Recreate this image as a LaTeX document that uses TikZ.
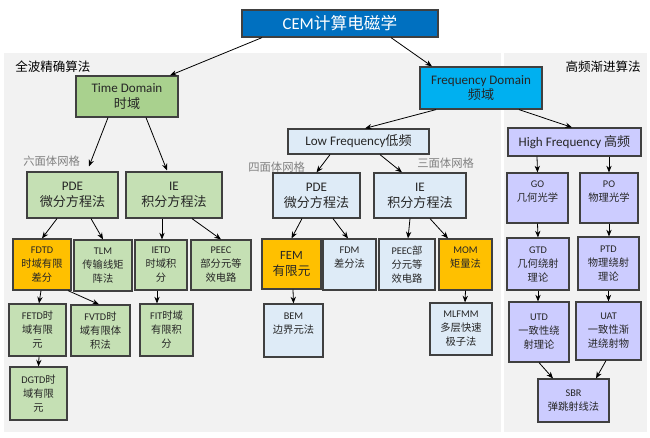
\documentclass[tikz,border=0pt]{standalone}
\usepackage{fontspec}
\setmainfont{Carlito}
\newfontfamily\cjk{Noto Sans CJK SC}
\newcommand\zh[1]{{\cjk #1}}
\usetikzlibrary{calc,arrows.meta}
\definecolor{cemblue}{HTML}{0070C0}
\definecolor{fdblue}{HTML}{00B0F0}
\definecolor{tdgreen}{HTML}{A9D18E}
\definecolor{ltgreen}{HTML}{C5E0B4}
\definecolor{ltblue}{HTML}{DEEBF7}
\definecolor{lav}{HTML}{CCCCFF}
\definecolor{orng}{HTML}{FFC000}
\definecolor{panelgray}{HTML}{F2F2F2}
\definecolor{bordergray}{HTML}{404040}
\definecolor{txt}{HTML}{262626}
\newcommand\bx[7]{\node[box,#6,minimum width={(#4-#2)*0.75pt},minimum height={(#5-#3)*0.75pt}] (#1) at ({(#2+#4)/2},{(#3+#5)/2}) {#7};}
\begin{document}
\begin{tikzpicture}[x=0.75pt,y=-0.75pt,
  box/.style={draw=bordergray,line width=0.9pt,inner sep=0pt,align=center,text=txt},
  big/.style={font=\fontsize{9.8}{11.8}\selectfont},
  small/.style={font=\fontsize{7.7}{10.5}\selectfont},
  mid/.style={font=\fontsize{9.4}{11.5}\selectfont},
  gr/.style={fill=ltgreen,small},
  lb/.style={fill=ltblue,small},
  lv/.style={fill=lav,small},
  og/.style={fill=orng,small},
  arr/.style={-{Stealth[length=5pt,width=4pt]},line width=0.6pt,black},
  sec/.style={font=\fontsize{9.4}{11}\selectfont\cjk,text=black,inner sep=0pt},
  mesh/.style={font=\fontsize{8.5}{10}\selectfont\cjk,text=gray,inner sep=0pt}]
\useasboundingbox (0,0) rectangle (650,437);
\fill[white] (0,0) rectangle (650,437);
\fill[panelgray] (4,53) rectangle (501,432);
\fill[panelgray] (504,53) rectangle (647,432);
\node[sec,anchor=west] (l1) at (15,67) {全波精确算法};
\node[sec,anchor=east] (l2) at (641,67) {高频渐进算法};
\node[mesh,anchor=west] (m1) at (23,161) {六面体网格};
\node[mesh,anchor=west] (m2) at (248,167) {四面体网格};
\node[mesh,anchor=west] (m3) at (417,163) {三面体网格};
% level 0
\bx{cem}{242}{10}{438}{37}{fill=cemblue,text=white,font=\fontsize{12.5}{14}\selectfont}{CEM\zh{计算电磁学}}
% level 1
\bx{td}{76}{76}{178}{117}{fill=tdgreen,big}{Time Domain\\\zh{时域}}
\bx{fd}{420}{67}{542}{109}{fill=fdblue,big}{Frequency Domain\\\zh{频域}}
% level 2
\bx{lf}{288}{129}{429}{154}{fill=ltblue,big}{Low Frequency\zh{低频}}
\bx{hf}{508}{128}{641}{156}{fill=lav,big}{High Frequency \zh{高频}}
\bx{pdel}{27}{172}{118}{218}{fill=ltgreen,big}{PDE\\\zh{微分方程法}}
\bx{iel}{126}{172}{222}{218}{fill=ltgreen,big}{IE\\\zh{积分方程法}}
\bx{pdem}{273}{173}{360}{218}{fill=ltblue,big}{PDE\\\zh{微分方程法}}
\bx{iem}{374}{173}{466}{218}{fill=ltblue,big}{IE\\\zh{积分方程法}}
\bx{go}{507}{173}{568}{223}{lv}{GO\\\zh{几何光学}\\\mbox{}}
\bx{po}{580}{173}{638}{223}{lv}{PO\\\zh{物理光学}\\\mbox{}}
% level 3
\bx{fdtd}{13}{239}{71}{290}{og}{FDTD\\\zh{时域有限}\\\zh{差分}}
\bx{tlm}{74}{240}{132}{291}{gr}{TLM\\\zh{传输线矩}\\\zh{阵法}}
\bx{ietd}{135}{240}{187}{290}{gr}{IETD\\\zh{时域积}\\\zh{分}}
\bx{peec}{191}{240}{251}{290}{gr}{PEEC\\\zh{部分元等}\\\zh{效电路}}
\bx{fem}{262}{239}{321}{289}{fill=orng,mid}{FEM\\\zh{有限元}}
\bx{fdm}{323}{239}{376}{290}{lb}{FDM\\\zh{差分法}\\\mbox{}}
\bx{peecm}{379}{239}{435}{290}{lb}{PEEC\zh{部}\\\zh{分元等}\\\zh{效电路}}
\bx{mom}{439}{239}{492}{290}{og}{MOM\\\zh{矩量法}\\\mbox{}}
\bx{gtd}{507}{238}{569}{290}{lv}{GTD\\\zh{几何绕射}\\\zh{理论}}
\bx{ptd}{578}{237}{639}{290}{lv}{PTD\\\zh{物理绕射}\\\zh{理论}}
% level 4
\bx{fetd}{9}{304}{66}{356}{gr}{FETD\zh{时}\\\zh{域有限}\\\zh{元}}
\bx{fvtd}{71}{305}{130}{356}{gr}{FVTD\zh{时}\\\zh{域有限体}\\\zh{积法}}
\bx{fit}{140}{304}{193}{356}{gr}{FIT\zh{时域}\\\zh{有限积}\\\zh{分}}
\bx{bem}{264}{304}{323}{357}{lb}{BEM\\\zh{边界元法}\\\mbox{}}
\bx{mlfmm}{430}{303}{492}{355}{lb}{MLFMM\\\zh{多层快速}\\\zh{极子法}}
\bx{utd}{509}{302}{569}{362}{lv}{UTD\\\zh{一致性绕}\\\zh{射理论}}
\bx{uat}{576}{302}{641}{360}{lv}{UAT\\\zh{一致性渐}\\\zh{进绕射物}}
% level 5
\bx{dgtd}{10}{367}{67}{420}{gr}{DGTD\zh{时}\\\zh{域有限}\\\zh{元}}
\bx{sbr}{538}{379}{609}{422}{lv}{SBR\\\zh{弹跳射线法}}
% connectors
\draw[arr] ($(cem.south)+(-78,0)$) -- ($(td.north)+(43,0)$);
\draw[arr] ($(cem.south)+(51,0)$) -- ($(fd.north)+(-49,0)$);
\draw[arr] ($(fd.south)+(-45,0)$) -- ($(lf.north)+(6.5,0)$);
\draw[arr] ($(fd.south)+(38,0)$) -- ($(hf.north)+(-2.5,0)$);
\draw[arr] ($(td.south)+(-19,0)$) -- ($(pdel.north)+(16.5,-5)$);
\draw[arr] ($(td.south)+(19,0)$) -- ($(iel.north)+(-7,-1)$);
\draw[arr] ($(lf.south)+(-28.5,0)$) -- (pdem.north);
\draw[arr] ($(lf.south)+(21.5,0)$) -- ($(iem.north)+(-18,0)$);
\draw[arr] ($(hf.south)+(-37.5,0)$) -- (go.north);
\draw[arr] ($(hf.south)+(34.5,0)$) -- (po.north);
\draw[arr] ($(pdel.south)+(-15.5,0)$) -- (fdtd.north);
\draw[arr] ($(pdel.south)+(18.5,0)$) -- (tlm.north);
\draw[arr] ($(iel.south)+(-12,0)$) -- ($(ietd.north)+(1,0)$);
\draw[arr] ($(iel.south)+(18,0)$) -- (peec.north);
\draw[arr] ($(fdtd.south)+(-1,0)$) -- ($(fetd.north)+(1.5,0)$);
\draw[arr] ($(fdtd.south)+(26,0)$) -- ($(fvtd.north)+(-1.5,0)$);
\draw[arr] ($(fetd.south)+(1.5,0)$) -- (dgtd.north);
\draw[arr] ($(ietd.south)+(-4,0)$) -- ($(fit.north)+(-9.5,0)$);
\draw[arr] ($(pdem.south)+(-14.5,0)$) -- (fem.north);
\draw[arr] ($(pdem.south)+(16.5,0)$) -- ($(fdm.north)+(-1.5,0)$);
\draw[arr] ($(iem.south)+(-10,0)$) -- ($(peecm.north)+(1,0)$);
\draw[arr] ($(iem.south)+(10,0)$) -- ($(mom.north)+(-17.5,0)$);
\draw[arr] ($(fem.south)+(1.5,0)$) -- (bem.north);
\draw[arr] (mom.south) -- ($(mlfmm.north)+(4,0)$);
\draw[arr] (go.south) -- (gtd.north);
\draw[arr] (po.south) -- ($(ptd.north)+(0.5,0)$);
\draw[arr] (gtd.south) -- ($(utd.north)+(-1,0)$);
\draw[arr] (ptd.south) -- (uat.north);
\draw[arr] (utd.south) -- ($(sbr.north)+(-20.5,0)$);
\draw[arr] ($(uat.south)+(-2.5,0)$) -- ($(sbr.north)+(22.5,0)$);
\end{tikzpicture}
\end{document}
